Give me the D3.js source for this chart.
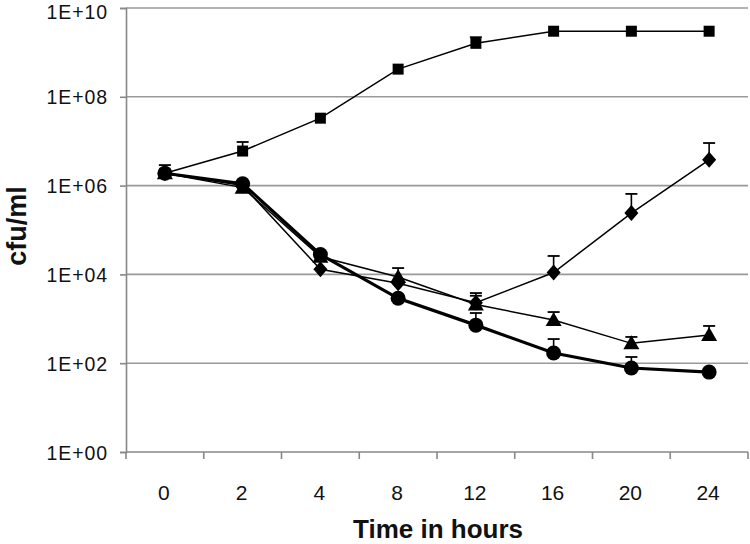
<!DOCTYPE html>
<html><head><meta charset="utf-8">
<script src="https://cdn.jsdelivr.net/npm/d3@7"></script>
<style>html,body{margin:0;padding:0;background:#fff;}</style>
</head><body>
<svg id="chart" width="750" height="544"></svg>
<script>
const categories = ["0","2","4","8","12","16","20","24"];
const yTicks = [1,1e2,1e4,1e6,1e8,1e10];
const yTickLabels = ["1E+00","1E+02","1E+04","1E+06","1E+08","1E+10"];
const squareVals   = [1.9e6, 6e6, 3.3e7, 4.2e8, 1.6e9, 3e9, 3e9, 3e9];
const squareErr    = [1.0e6, 3.6e6, 0, 0, 6e8, 0, 0, 0];
const diamondVals  = [1.9e6, 1.0e6, 1.3e4, 6.3e3, 2.3e3, 1.1e4, 2.4e5, 3.8e6];
const diamondErr   = [0, 0, 0, 0, 1.5e3, 1.5e4, 4.1e5, 5.3e6];
const triangleVals = [1.9e6, 9e5, 2.5e4, 8.7e3, 2.1e3, 9.4e2, 2.8e2, 4.3e2];
const triangleErr  = [0, 0, 0, 5.2e3, 1.2e3, 4.8e2, 110, 260];
const circleVals   = [1.9e6, 1.1e6, 2.8e4, 2.9e3, 7.2e2, 1.7e2, 78, 63];
const circleErr    = [0, 0, 0, 0, 630, 180, 60, 0];

const series = [
  {vals: diamondVals, err: diamondErr, shape: "diamond", lw: 1.5},
  {vals: triangleVals, err: triangleErr, shape: "triangle", lw: 1.5},
  {vals: squareVals, err: squareErr, shape: "square", lw: 1.5},
  {vals: circleVals, err: circleErr, shape: "circle", lw: 3.2}
];

const svg = d3.select("#chart");
const x = d3.scaleBand().domain(categories).range([126, 748]).padding(0);
const y = d3.scaleLog().domain([1, 1e10]).range([452, 8]);
const font = "'Liberation Sans', Arial, sans-serif";

// gridlines
svg.append("g").selectAll("line").data(yTicks.slice(1)).join("line")
  .attr("x1", 126).attr("x2", 748)
  .attr("y1", d => y(d)).attr("y2", d => y(d))
  .attr("stroke", "#999").attr("stroke-width", 1.6);

// y axis
const yAxis = d3.axisLeft(y).tickValues(yTicks).tickFormat((d,i) => yTickLabels[i]).tickSize(6).tickPadding(12);
const gy = svg.append("g").attr("transform", "translate(126,0)").call(yAxis);
gy.select(".domain").attr("stroke", "#888").attr("stroke-width", 1.6);
gy.selectAll(".tick line").attr("stroke", "#888").attr("stroke-width", 1.6);
gy.selectAll("text").attr("font-family", font).attr("font-size", 19.5).attr("fill", "#111")
  .attr("letter-spacing", 0.9).attr("dy", d => d === 1e10 ? "0.52em" : "0.36em");

// x axis: ticks at band boundaries
const boundaries = categories.map(c => x(c)).concat([x.range()[1]]);
svg.append("line").attr("x1", 126).attr("x2", 748).attr("y1", 452).attr("y2", 452)
  .attr("stroke", "#888").attr("stroke-width", 1.6);
svg.append("g").selectAll("line").data(boundaries).join("line")
  .attr("x1", d => d).attr("x2", d => d).attr("y1", 452).attr("y2", 459)
  .attr("stroke", "#888").attr("stroke-width", 1.6);
svg.append("g").selectAll("text").data(categories).join("text")
  .attr("x", d => x(d) + x.bandwidth()/2 - 1).attr("y", 500)
  .attr("text-anchor", "middle").attr("font-family", font).attr("font-size", 21).attr("fill", "#111")
  .text(d => d);

// axis titles
svg.append("text").attr("x", 438).attr("y", 538).attr("text-anchor", "middle")
  .attr("font-family", font).attr("font-weight", "bold").attr("font-size", 26).attr("fill", "#111")
  .text("Time in hours");
svg.append("text").attr("transform", "translate(26,226) rotate(-90)").attr("text-anchor", "middle")
  .attr("font-family", font).attr("font-weight", "bold").attr("font-size", 27).attr("fill", "#111")
  .text("cfu/ml");

const cx = c => x(c) + x.bandwidth()/2;

function markerPath(shape) {
  const p = d3.path();
  if (shape === "square") { p.rect(-5.5, -5.5, 11, 11); }
  else if (shape === "diamond") { p.moveTo(0,-8); p.lineTo(7,0); p.lineTo(0,8); p.lineTo(-7,0); p.closePath(); }
  else if (shape === "triangle") { p.moveTo(0,-8); p.lineTo(8,6); p.lineTo(-8,6); p.closePath(); }
  else { p.arc(0,0,7.5,0,2*Math.PI); }
  return p.toString();
}

series.forEach(s => {
  const g = svg.append("g");
  const pts = categories.map((c,i) => ({c, v: s.vals[i], e: s.err[i]}));
  const eb = pts.filter(d => d.e > 0);
  g.selectAll("line.eb").data(eb).join("line").attr("class","eb")
    .attr("x1", d => cx(d.c)).attr("x2", d => cx(d.c))
    .attr("y1", d => y(d.v)).attr("y2", d => y(d.v + d.e))
    .attr("stroke", "#000").attr("stroke-width", 1.6);
  g.selectAll("line.cap").data(eb).join("line").attr("class","cap")
    .attr("x1", d => cx(d.c) - 6).attr("x2", d => cx(d.c) + 6)
    .attr("y1", d => y(d.v + d.e)).attr("y2", d => y(d.v + d.e))
    .attr("stroke", "#000").attr("stroke-width", 1.8);
  g.append("path").datum(pts)
    .attr("d", d3.line().x(d => cx(d.c)).y(d => y(d.v)))
    .attr("fill", "none").attr("stroke", "#000").attr("stroke-width", s.lw);
  g.selectAll("path.m").data(pts).join("path").attr("class","m")
    .attr("transform", d => `translate(${cx(d.c)},${y(d.v)})`)
    .attr("d", markerPath(s.shape)).attr("fill", "#000");
});
</script>
</body></html>
